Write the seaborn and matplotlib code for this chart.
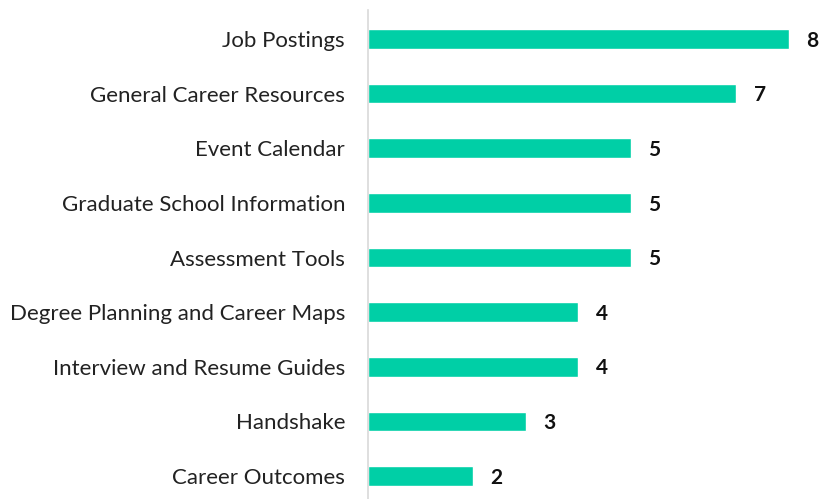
import seaborn as sns
import matplotlib.pyplot as plt
import pandas as pd

categories = ['Job Postings', 'General Career Resources', 'Event Calendar',
              'Graduate School Information', 'Assessment Tools',
              'Degree Planning and Career Maps', 'Interview and Resume Guides',
              'Handshake', 'Career Outcomes']
values = [8, 7, 5, 5, 5, 4, 4, 3, 2]

df = pd.DataFrame({'category': categories, 'count': values})

sns.set_style('white')
plt.rcParams['font.family'] = ['Lato', 'DejaVu Sans']

fig = plt.figure(figsize=(8.2, 4.99), dpi=100)
ax = fig.add_axes([368 / 820, 0, 452 / 820, 489 / 499])
sns.barplot(data=df, x='count', y='category', orient='h', color='#00CFA6',
            width=0.36, saturation=1, ax=ax)

ax.set_xlim(0, 8.59)
ax.set_ylim(8.42, -0.53)
ax.set_xlabel('')
ax.set_ylabel('')
ax.set_xticks([])
ax.tick_params(axis='y', length=0, pad=16.5, labelsize=16, labelcolor='#222222')
for side in ['top', 'right', 'bottom']:
    ax.spines[side].set_visible(False)
ax.spines['left'].set_color('#D9D9D9')
ax.spines['left'].set_linewidth(1.2)

for i, v in enumerate(values):
    ax.text(v + 0.33, i + 0.03, str(v), va='center', ha='left', fontsize=15,
            fontweight='bold', color='#111111')

fig.savefig('out.png', dpi=100)
